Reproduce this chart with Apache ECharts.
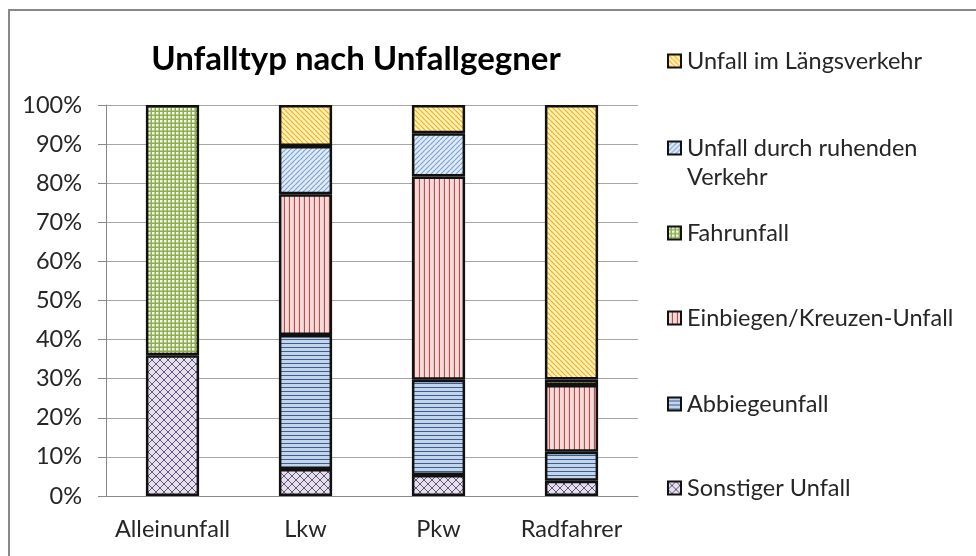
<!DOCTYPE html>
<html>
<head>
<meta charset="utf-8">
<script src="https://cdn.jsdelivr.net/npm/echarts@6/dist/echarts.min.js"></script>
<style>
  html, body { margin: 0; padding: 0; background: #fff; }
  #main { width: 976px; height: 556px; }
</style>
</head>
<body>
<div id="main"></div>
<script>
// Kategorien (Unfallgegner)
var categories = ['Alleinunfall', 'Lkw', 'Pkw', 'Radfahrer'];
// Anteile in % je Unfalltyp (von unten nach oben gestapelt)
var sonstiger = [36, 6.9, 5.4, 3.9];
var abbiege = [0, 34.3, 24.3, 7.4];
var einbiegen = [0, 36, 52, 17.1];
var fahrunfall = [64, 0, 0, 1.4];
var ruhenden = [0, 12.3, 11.1, 0];
var laengs = [0, 10.5, 7.2, 70.2];
var yTicks = [0, 10, 20, 30, 40, 50, 60, 70, 80, 90, 100];

var FONT = 'Lato';
var FS = 23.5;

// Schraffur als kleines Canvas-Muster
function hatch(bg, fg, kind, size, lw) {
    var c = document.createElement('canvas');
    c.width = c.height = size;
    var g = c.getContext('2d');
    g.fillStyle = bg;
    g.fillRect(0, 0, size, size);
    g.strokeStyle = fg;
    g.lineWidth = lw || 1;
    g.beginPath();
    var k;
    if (kind == 'h') {
        g.moveTo(0, size - 0.5); g.lineTo(size, size - 0.5);
    } else if (kind == 'v') {
        g.moveTo(size - 0.5, 0); g.lineTo(size - 0.5, size);
    } else if (kind == 'grid') {
        g.moveTo(0, size - 0.75); g.lineTo(size, size - 0.75);
        g.moveTo(size - 0.75, 0); g.lineTo(size - 0.75, size);
    } else if (kind == 'down' || kind == 'cross') {
        for (k = -size; k <= size; k += size) { g.moveTo(k, 0); g.lineTo(k + size, size); }
    }
    if (kind == 'up' || kind == 'cross') {
        for (k = -size; k <= size; k += size) { g.moveTo(k, size); g.lineTo(k + size, 0); }
    }
    g.stroke();
    return { image: c, repeat: 'repeat' };
}

var styles = {
    laengs: hatch('#FFEFC4', '#F2B400', 'down', 5, 1.2),
    ruhenden: hatch('#E0EBF7', '#7AA2D4', 'up', 5, 1.2),
    fahrunfall: hatch('#F2F7E8', '#8DAE50', 'grid', 4, 1.5),
    einbiegen: hatch('#F3D9D8', '#B5504C', 'v', 5, 1.2),
    abbiege: hatch('#C2D5EC', '#3E5F8A', 'h', 4, 1),
    sonstiger: hatch('#E6E0EC', '#62567A', 'cross', 8, 1)
};

function mkSeries(name, data, key) {
    return {
        name: name,
        type: 'bar',
        stack: 'total',
        barWidth: '40%',
        data: data.map(function (v) { return v ? v : '-'; }),
        itemStyle: { color: styles[key], borderColor: '#111', borderWidth: 2.5 },
        emphasis: { disabled: true }
    };
}

var series = [
    mkSeries('Sonstiger Unfall', sonstiger, 'sonstiger'),
    mkSeries('Abbiegeunfall', abbiege, 'abbiege'),
    mkSeries('Einbiegen/Kreuzen-Unfall', einbiegen, 'einbiegen'),
    mkSeries('Fahrunfall', fahrunfall, 'fahrunfall'),
    mkSeries('Unfall durch ruhenden Verkehr', ruhenden, 'ruhenden'),
    mkSeries('Unfall im Längsverkehr', laengs, 'laengs')
];

// Legende: ein Eintrag pro Komponente, damit die Abstände wie im Original sind
var legendCenters = [61, 148, 233, 318, 404, 488];
var legendNames = ['Unfall im Längsverkehr', 'Unfall durch ruhenden Verkehr', 'Fahrunfall',
    'Einbiegen/Kreuzen-Unfall', 'Abbiegeunfall', 'Sonstiger Unfall'];
var legends = legendNames.map(function (n, i) {
    var lg = {
        data: [n],
        left: 667,
        top: legendCenters[i] - 14,
        padding: 0,
        itemWidth: 13,
        itemHeight: 13,
        itemGap: 0,
        icon: 'rect',
        selectedMode: false,
        textStyle: { fontFamily: FONT, fontSize: FS, color: '#262626', padding: [0, 0, 0, 1], lineHeight: 28 }
    };
    if (n == 'Unfall durch ruhenden Verkehr') {
        // leere erste Zeile, damit das Symbol auf Höhe der ersten Textzeile steht
        lg.formatter = '\nUnfall durch ruhenden\nVerkehr';
        lg.textStyle.lineHeight = 29;
        lg.top = legendCenters[i] - 43.5;
    }
    return lg;
});

var chart = echarts.init(document.getElementById('main'));
chart.setOption({
    animation: false,
    title: {
        text: 'Unfalltyp nach Unfallgegner',
        left: 351,
        textAlign: 'center',
        top: 38,
        textStyle: { fontFamily: FONT, fontSize: 33, fontWeight: 'bold', color: '#000' }
    },
    graphic: [{
        type: 'rect',
        shape: { x: 9, y: 10, width: 1000, height: 600 },
        style: { fill: null, stroke: '#888', lineWidth: 2 },
        silent: true
    }],
    legend: legends,
    grid: { left: 106, right: 338, top: 105, bottom: 60 },
    xAxis: {
        type: 'category',
        data: categories,
        axisLine: { lineStyle: { color: '#888', width: 1 } },
        axisTick: { length: 8, lineStyle: { color: '#888' } },
        axisLabel: { fontFamily: FONT, fontSize: FS, color: '#262626', margin: 21, interval: 0 }
    },
    yAxis: {
        type: 'value',
        min: 0,
        max: 100,
        interval: 10,
        axisLine: { show: true, lineStyle: { color: '#888', width: 1 } },
        axisTick: { show: true, length: 8, lineStyle: { color: '#888' } },
        axisLabel: {
            fontFamily: FONT, fontSize: FS, color: '#262626', margin: 24,
            formatter: function (v) { return yTicks.indexOf(v) >= 0 ? v + '%' : ''; }
        },
        splitLine: { lineStyle: { color: '#A6A6A6', width: 1 } }
    },
    series: series
});
</script>
</body>
</html>
